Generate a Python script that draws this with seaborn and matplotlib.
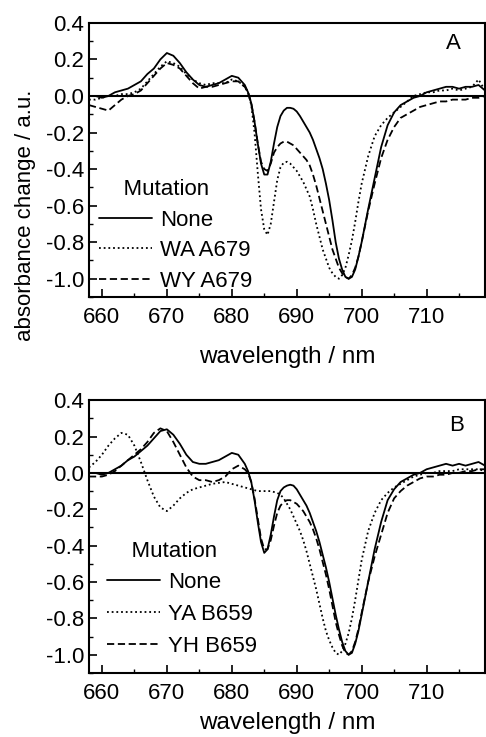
import matplotlib
matplotlib.use("Agg")
import matplotlib.pyplot as plt
from matplotlib.ticker import MultipleLocator
import pandas as pd
import seaborn as sns

# wavelength grid (nm); finer steps through the two troughs
wl = [658, 659, 660, 661, 662, 663, 664, 665, 666, 667, 668, 669,
      670, 671, 672, 673, 674, 675, 676, 677, 678, 679, 680, 681,
      682, 682.5, 683, 683.5, 684, 684.5, 685, 685.5, 686, 686.5,
      687, 687.5, 688, 688.5, 689, 689.5, 690, 690.5, 691, 691.5,
      692, 692.5, 693, 693.5, 694, 694.5, 695, 695.5, 696, 696.5,
      697, 697.5, 698, 698.5, 699, 699.5, 700,
      701, 702, 703, 704, 705, 706, 707, 708, 709, 710,
      711, 712, 713, 714, 715, 716, 717, 718, 719]

# panel A
a_none = [0.0, 0.0, -0.01, 0.0, 0.02, 0.03, 0.04, 0.06, 0.08, 0.12, 0.15, 0.20,
          0.235, 0.22, 0.18, 0.13, 0.09, 0.06, 0.05, 0.06, 0.07, 0.09, 0.11, 0.10,
          0.06, 0.02, -0.04, -0.14, -0.26, -0.37, -0.43, -0.43, -0.36, -0.26,
          -0.17, -0.11, -0.08, -0.065, -0.065, -0.07, -0.085, -0.11, -0.14, -0.17,
          -0.20, -0.24, -0.29, -0.34, -0.40, -0.48, -0.57, -0.68, -0.80, -0.89,
          -0.95, -0.99, -1.0, -0.99, -0.95, -0.88, -0.80,
          -0.62, -0.45, -0.28, -0.16, -0.09, -0.05, -0.03, -0.01, 0.0, 0.02,
          0.03, 0.04, 0.05, 0.05, 0.04, 0.05, 0.05, 0.06, 0.03]
a_wa = [-0.02, -0.02, -0.01, 0.0, 0.0, 0.01, 0.01, 0.02, 0.04, 0.08, 0.12, 0.16,
        0.19, 0.18, 0.16, 0.12, 0.09, 0.07, 0.06, 0.07, 0.07, 0.07, 0.09, 0.08,
        0.05, 0.02, -0.05, -0.20, -0.42, -0.62, -0.73, -0.76, -0.70, -0.58,
        -0.46, -0.39, -0.365, -0.36, -0.37, -0.39, -0.41, -0.44, -0.47, -0.51,
        -0.55, -0.62, -0.70, -0.77, -0.84, -0.89, -0.94, -0.97, -0.99, -1.0,
        -0.98, -0.94, -0.87, -0.79, -0.69, -0.58, -0.48,
        -0.33, -0.22, -0.16, -0.12, -0.09, -0.06, -0.03, 0.0, 0.01, 0.02,
        0.02, 0.03, 0.03, 0.04, 0.03, 0.04, 0.05, 0.09, 0.03]
a_wy = [-0.05, -0.06, -0.07, -0.08, -0.05, -0.02, 0.0, 0.01, 0.03, 0.07, 0.11, 0.15,
        0.18, 0.17, 0.15, 0.11, 0.07, 0.04, 0.05, 0.05, 0.06, 0.07, 0.08, 0.08,
        0.05, 0.02, -0.04, -0.14, -0.26, -0.36, -0.40, -0.41, -0.37, -0.31,
        -0.28, -0.26, -0.25, -0.25, -0.26, -0.27, -0.29, -0.31, -0.33, -0.35,
        -0.38, -0.43, -0.49, -0.56, -0.63, -0.70, -0.77, -0.84, -0.89, -0.94,
        -0.97, -0.99, -1.0, -0.98, -0.94, -0.88, -0.80,
        -0.63, -0.48, -0.34, -0.24, -0.17, -0.12, -0.10, -0.08, -0.06, -0.05,
        -0.04, -0.03, -0.03, -0.02, -0.02, -0.02, -0.01, -0.01, 0.0]

# panel B
b_none = [0.0, 0.0, -0.01, 0.0, 0.02, 0.04, 0.07, 0.09, 0.12, 0.15, 0.19, 0.23,
          0.24, 0.21, 0.16, 0.10, 0.06, 0.05, 0.05, 0.06, 0.07, 0.09, 0.11, 0.10,
          0.05, 0.01, -0.05, -0.15, -0.27, -0.38, -0.44, -0.42, -0.34, -0.24,
          -0.15, -0.10, -0.08, -0.07, -0.065, -0.07, -0.09, -0.12, -0.15, -0.18,
          -0.22, -0.27, -0.32, -0.38, -0.45, -0.52, -0.60, -0.69, -0.78, -0.86,
          -0.93, -0.98, -1.0, -0.99, -0.94, -0.87, -0.78,
          -0.60, -0.42, -0.27, -0.15, -0.09, -0.05, -0.03, -0.01, 0.0, 0.02,
          0.03, 0.04, 0.05, 0.04, 0.05, 0.04, 0.05, 0.06, 0.04]
b_ya = [0.03, 0.06, 0.10, 0.15, 0.19, 0.22, 0.21, 0.15, 0.06, -0.04, -0.13, -0.19,
        -0.21, -0.18, -0.14, -0.11, -0.09, -0.08, -0.07, -0.06, -0.055, -0.05, -0.06, -0.07,
        -0.08, -0.085, -0.09, -0.095, -0.10, -0.10, -0.10, -0.10, -0.10, -0.105,
        -0.11, -0.12, -0.14, -0.17, -0.20, -0.24, -0.28, -0.32, -0.37, -0.43,
        -0.50, -0.57, -0.64, -0.72, -0.80, -0.87, -0.92, -0.96, -0.99, -1.0,
        -0.98, -0.94, -0.88, -0.80, -0.70, -0.59, -0.48,
        -0.32, -0.22, -0.15, -0.11, -0.08, -0.06, -0.04, -0.02, -0.01, 0.0,
        0.0, 0.01, 0.01, 0.01, 0.02, 0.02, 0.02, 0.02, 0.01]
b_yh = [-0.02, -0.02, -0.02, -0.01, 0.01, 0.04, 0.07, 0.10, 0.13, 0.17, 0.22, 0.245,
        0.23, 0.17, 0.10, 0.03, -0.02, -0.04, -0.04, -0.05, -0.04, -0.02, 0.02, 0.04,
        0.02, 0.0, -0.05, -0.14, -0.25, -0.36, -0.42, -0.42, -0.37, -0.29,
        -0.22, -0.18, -0.16, -0.15, -0.15, -0.16, -0.17, -0.19, -0.21, -0.24,
        -0.27, -0.31, -0.36, -0.42, -0.49, -0.56, -0.64, -0.73, -0.82, -0.89,
        -0.95, -0.99, -1.0, -0.98, -0.93, -0.86, -0.77,
        -0.60, -0.46, -0.34, -0.22, -0.14, -0.10, -0.07, -0.05, -0.03, -0.02,
        -0.02, -0.01, -0.01, 0.0, 0.0, 0.01, 0.01, 0.02, 0.02]

labels_a = ["None", "WA A679", "WY A679"]
labels_b = ["None", "YA B659", "YH B659"]

y_ticks = [0.4, 0.2, 0.0, -0.2, -0.4, -0.6, -0.8, -1.0]
x_ticks = [660, 670, 680, 690, 700, 710]

sns.set_style("ticks")
plt.rcParams["font.family"] = ["Liberation Sans", "DejaVu Sans"]
plt.rcParams["xtick.direction"] = "in"
plt.rcParams["ytick.direction"] = "in"
for key in ["text.color", "axes.labelcolor", "xtick.color", "ytick.color",
            "axes.edgecolor"]:
    plt.rcParams[key] = "black"


def long_frame(series, names):
    parts = []
    for vals, name in zip(series, names):
        parts.append(pd.DataFrame({"wl": wl, "val": vals, "Mutation": name}))
    return pd.concat(parts, ignore_index=True)


def draw_panel(ax, df, names, letter, letter_xy, leg_xy, spacing, xpad):
    dash_map = {names[0]: "", names[1]: (1, 1.6), names[2]: (4, 2)}
    sns.lineplot(data=df, x="wl", y="val", style="Mutation", style_order=names,
                 dashes=dash_map, color="black", linewidth=1.3, ax=ax)
    ax.axhline(0, color="black", linewidth=1.5, zorder=1)
    ax.set_xlim(658, 719)
    ax.set_ylim(-1.1, 0.4)
    ax.set_xticks(x_ticks)
    ax.set_yticks(y_ticks)
    ax.set_yticklabels([f"{t:.1f}" for t in y_ticks])
    ax.xaxis.set_minor_locator(MultipleLocator(5))
    ax.yaxis.set_minor_locator(MultipleLocator(0.1))
    ax.tick_params(axis="x", which="major", pad=7)
    ax.tick_params(which="major", length=6, width=1.2, labelsize=16)
    ax.tick_params(which="minor", length=3, width=1.0)
    for s in ax.spines.values():
        s.set_linewidth(1.5)
    ax.set_xlabel("wavelength / nm", fontsize=17.5, labelpad=xpad)
    ax.set_ylabel("")
    ax.text(letter_xy[0], letter_xy[1], letter, transform=ax.transAxes,
            fontsize=16, ha="center", va="center")
    sns.move_legend(ax, "lower left", bbox_to_anchor=leg_xy, frameon=False,
                    title="    Mutation", fontsize=16, title_fontsize=16,
                    handlelength=2.4, handletextpad=0.35, labelspacing=spacing,
                    borderaxespad=0, borderpad=0)
    ax.get_legend()._legend_box.align = "left"
    ax.get_legend()._legend_box.sep = 7


fig = plt.figure(figsize=(4.86, 7.37), dpi=100)
ax_a = fig.add_axes([0.183, 0.597, 0.815, 0.372])
ax_b = fig.add_axes([0.183, 0.087, 0.815, 0.370])

draw_panel(ax_a, long_frame([a_none, a_wa, a_wy], labels_a), labels_a, "A",
           (0.92, 0.923), (0.025, 0.02), 0.42, 13)
draw_panel(ax_b, long_frame([b_none, b_ya, b_yh], labels_b), labels_b, "B",
           (0.927, 0.908), (0.045, 0.06), 0.48, 6)

fig.text(0.052, 0.708, "absorbance change / a.u.", rotation=90,
         ha="center", va="center", fontsize=16)

fig.savefig("out.png", dpi=100)
